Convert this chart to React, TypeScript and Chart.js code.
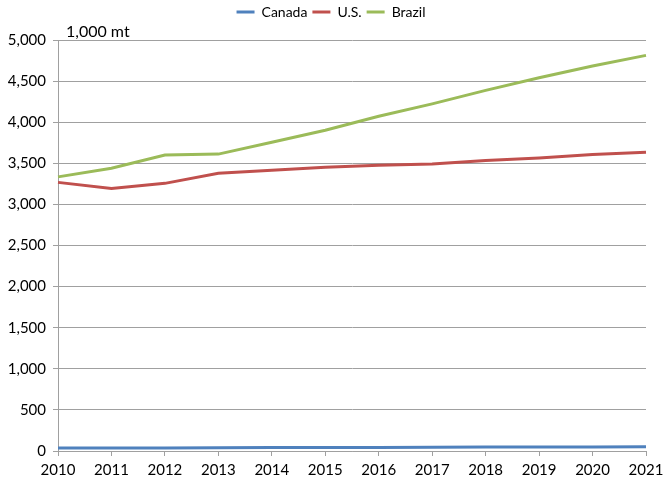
import React, { useEffect, useRef } from "react";
import { Chart, registerables } from "chart.js";

Chart.register(...registerables);

const years = ["2010", "2011", "2012", "2013", "2014", "2015", "2016", "2017", "2018", "2019", "2020", "2021"];
const canada = [38, 38, 38, 40, 42, 43, 44, 45, 48, 49, 50, 52];
const us = [3268, 3195, 3256, 3378, 3415, 3451, 3476, 3491, 3533, 3565, 3606, 3634];
const brazil = [3335, 3439, 3600, 3612, 3756, 3902, 4073, 4223, 4387, 4540, 4683, 4813];
const unitLabel = "1,000 mt";

const FONT = "Lato, 'Noto Sans', sans-serif";

export default function App() {
  const ref = useRef<HTMLCanvasElement | null>(null);
  useEffect(() => {
    if (!ref.current) return;
    const unitPlugin = {
      id: "unitLabel",
      afterDraw(chart: any) {
        const { ctx, chartArea } = chart;
        ctx.save();
        ctx.font = `16px ${FONT}`;
        ctx.fillStyle = "#000";
        ctx.textAlign = "left";
        ctx.textBaseline = "alphabetic";
        ctx.fillText(unitLabel, chartArea.left + 8, chartArea.top - 3);
        ctx.restore();
      },
    };
    const legendSpace = {
      id: "legendSpace",
      beforeInit(chart: any) {
        const lg = chart.legend;
        if (!lg) return;
        const orig = lg.fit;
        lg.fit = function () {
          orig.call(this);
          this.height += 11;
        };
      },
      afterLayout(chart: any) {
        const lg = chart.legend;
        if (!lg) return;
        lg.left += 8;
        lg.right += 8;
      },
    };
    const mk = (label: string, data: number[], color: string) => ({
      label,
      data,
      borderColor: color,
      backgroundColor: color,
      borderWidth: 3,
      pointRadius: 0,
      pointStyle: "line" as const,
      tension: 0,
    });
    const chart = new Chart(ref.current, {
      type: "line",
      data: {
        labels: years,
        datasets: [mk("Canada", canada, "#4f81bd"), mk("U.S.", us, "#c0504d"), mk("Brazil", brazil, "#9bbb59")],
      },
      plugins: [legendSpace, unitPlugin],
      options: {
        animation: false,
        responsive: false,
        layout: { padding: { left: 0, right: 17, top: 0, bottom: 0 } },
        plugins: {
          tooltip: { enabled: false },
          legend: {
            position: "top",
            labels: {
              usePointStyle: true,
              pointStyleWidth: 18,
              color: "#000",
              font: { family: FONT, size: 14 },
              padding: 5,
            },
          },
        },
        scales: {
          x: {
            afterFit: (s: any) => {
              s.height = 27;
              s.paddingRight = 17;
              s.paddingLeft = 0;
            },
            grid: { drawOnChartArea: false, color: "#a0a0a0", tickLength: 5 },
            border: { color: "#a0a0a0" },
            ticks: { color: "#000", font: { family: FONT, size: 15 }, padding: 5, maxRotation: 0, autoSkip: false },
          },
          y: {
            min: 0,
            max: 5000,
            afterFit: (s: any) => {
              s.width = 58;
            },
            grid: { color: "#a0a0a0", tickLength: 5 },
            border: { color: "#a0a0a0" },
            ticks: {
              stepSize: 500,
              color: "#000",
              padding: 7,
              font: { family: FONT, size: 15 },
              callback: (v: any) => Number(v).toLocaleString("en-US"),
            },
          },
        },
      },
    });
    return () => chart.destroy();
  }, []);
  return (
    <div style={{ position: "fixed", left: 0, top: 0, width: 663, height: 478, background: "#fff" }}>
      <canvas ref={ref} width={663} height={478} />
    </div>
  );
}
